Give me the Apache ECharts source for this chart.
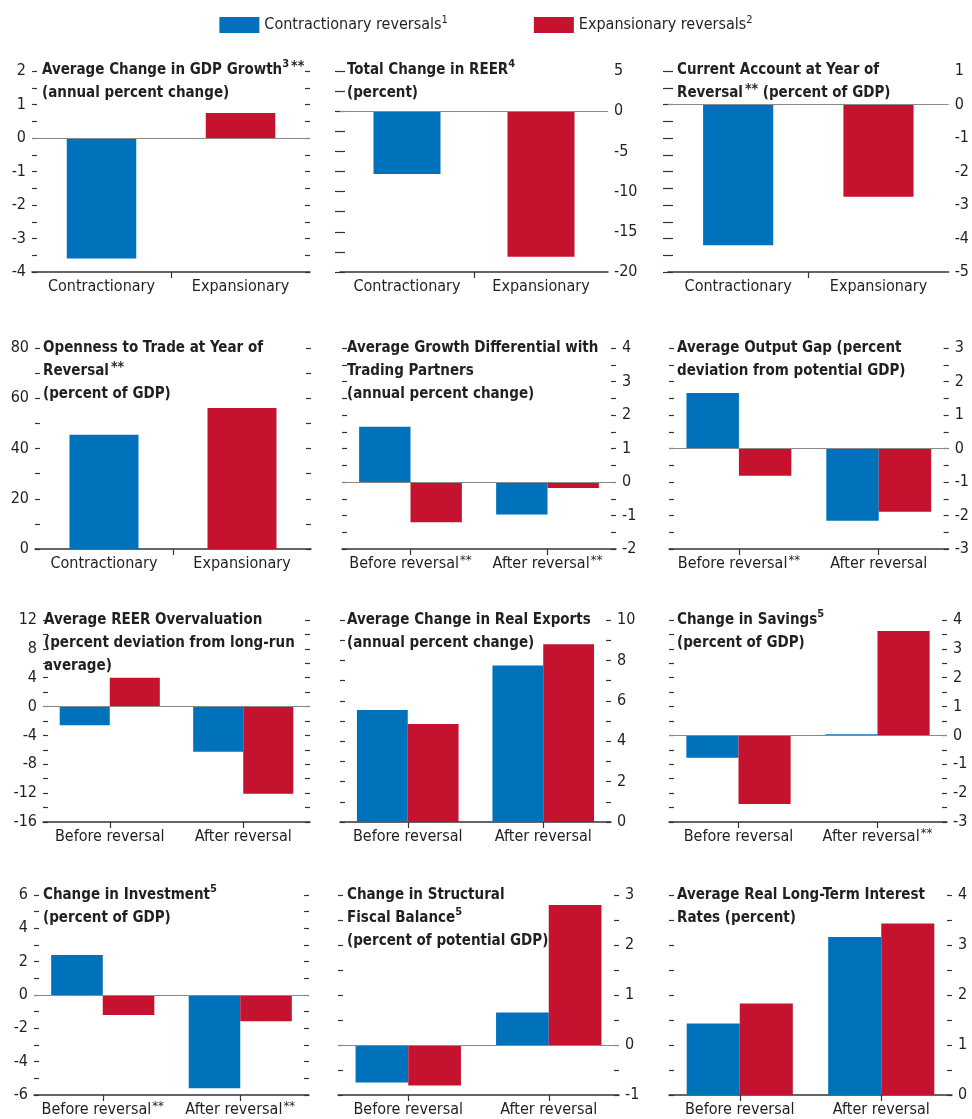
<!DOCTYPE html>
<html><head><meta charset="utf-8">
<script src="https://cdn.jsdelivr.net/npm/echarts@6/dist/echarts.min.js"></script>
<style>html,body{margin:0;padding:0;background:#fff}#c{width:972px;height:1119px}</style>
</head><body><div id="c"></div>
<script>
// ---------- DATA ----------
const seriesNames = ['Contractionary reversals', 'Expansionary reversals'];
const legendSup = ['1', '2'];

const catsType = ['Contractionary', 'Expansionary'];

// Panel 1
const p1Title = '{t|Average Change in GDP Growth}{s|3}{a|**}\n{t|(annual percent change)}';
const p1Vals = [-3.6, 0.75];          // contractionary, expansionary
const p1Axis = [-4, 2, 1];            // min, max, interval
// Panel 2
const p2Title = '{t|Total Change in REER}{s|4}\n{t|(percent)}';
const p2Vals = [-7.8, -18.1];
const p2Axis = [-20, 5, 5];
// Panel 3
const p3Title = '{t|Current Account at Year of}\n{t|Reversal}{a|**}{t| (percent of GDP)}';
const p3Vals = [-4.2, -2.75];
const p3Axis = [-5, 1, 1];
// Panel 4
const p4Title = '{t|Openness to Trade at Year of}\n{t|Reversal}{a|**}\n{t|(percent of GDP)}';
const p4Vals = [45.5, 56.1];
const p4Axis = [0, 80, 20];
// Panel 5
const p5Title = '{t|Average Growth Differential with}\n{t|Trading Partners}\n{t|(annual percent change)}';
const p5Cats = ['Before reversal**', 'After reversal**'];
const p5Contr = [1.65, -0.97];
const p5Exp = [-1.2, -0.18];
const p5Axis = [-2, 4, 1];
// Panel 6
const p6Title = '{t|Average Output Gap (percent}\n{t|deviation from potential GDP)}';
const p6Cats = ['Before reversal**', 'After reversal'];
const p6Contr = [1.66, -2.16];
const p6Exp = [-0.81, -1.89];
const p6Axis = [-3, 3, 1];
// Panel 7
const p7Title = '{t|Average REER Overvaluation}\n{t|(percent deviation from long-run}\n{t|average)}';
const p7Cats = ['Before reversal', 'After reversal'];
const p7Contr = [-2.6, -6.25];
const p7Exp = [4.0, -12.1];
const p7Axis = [-16, 12, 4];
// Panel 8
const p8Title = '{t|Average Change in Real Exports}\n{t|(annual percent change)}';
const p8Cats = ['Before reversal', 'After reversal'];
const p8Contr = [5.55, 7.75];
const p8Exp = [4.85, 8.8];
const p8Axis = [0, 10, 2];
// Panel 9
const p9Title = '{t|Change in Savings}{s|5}\n{t|(percent of GDP)}';
const p9Cats = ['Before reversal', 'After reversal**'];
const p9Contr = [-0.77, 0.04];
const p9Exp = [-2.38, 3.62];
const p9Axis = [-3, 4, 1];
// Panel 10
const p10Title = '{t|Change in Investment}{s|5}\n{t|(percent of GDP)}';
const p10Cats = ['Before reversal**', 'After reversal**'];
const p10Contr = [2.4, -5.6];
const p10Exp = [-1.2, -1.58];
const p10Axis = [-6, 6, 2];
// Panel 11
const p11Title = '{t|Change in Structural}\n{t|Fiscal Balance}{s|5}\n{t|(percent of potential GDP)}';
const p11Cats = ['Before reversal', 'After reversal'];
const p11Contr = [-0.75, 0.65];
const p11Exp = [-0.81, 2.8];
const p11Axis = [-1, 3, 1];
// Panel 12
const p12Title = '{t|Average Real Long-Term Interest}\n{t|Rates (percent)}';
const p12Cats = ['Before reversal', 'After reversal'];
const p12Contr = [1.43, 3.16];
const p12Exp = [1.83, 3.43];
const p12Axis = [0, 4, 1];

// ---------- LAYOUT / STYLE ----------
const FONT = "'Liberation Sans Narrow', 'DejaVu Sans Condensed', 'Arial Narrow', sans-serif";
const TXT = '#231f20';
const BLUE = '#0072bc';
const RED = '#c4122f';

const grids = [
  {left: 32, top: 71, width: 278, height: 201},
  {left: 340, top: 71, width: 268, height: 201},
  {left: 668, top: 71, width: 281, height: 201},
  {left: 35, top: 348, width: 276, height: 201},
  {left: 342, top: 348, width: 274, height: 201},
  {left: 669, top: 348, width: 280, height: 201},
  {left: 43, top: 620, width: 267, height: 202},
  {left: 340, top: 620, width: 271, height: 202},
  {left: 669, top: 620, width: 278, height: 202},
  {left: 34, top: 895, width: 275, height: 200},
  {left: 338, top: 895, width: 281, height: 200},
  {left: 669, top: 895, width: 283, height: 200}
];
const titlePos = [
  [42, 59], [347, 59], [677, 59],
  [43, 337], [347, 337], [677, 337],
  [44, 609], [347, 609], [677, 609],
  [43, 884], [347, 884], [677, 884]
];

const panels = [
  {title: p1Title, cats: catsType, contr: [p1Vals[0], '-'], exp: ['-', p1Vals[1]], axis: p1Axis, side: 'left', single: true},
  {title: p2Title, cats: catsType, contr: [p2Vals[0], '-'], exp: ['-', p2Vals[1]], axis: p2Axis, side: 'right', single: true},
  {title: p3Title, cats: catsType, contr: [p3Vals[0], '-'], exp: ['-', p3Vals[1]], axis: p3Axis, side: 'right', single: true},
  {title: p4Title, cats: catsType, contr: [p4Vals[0], '-'], exp: ['-', p4Vals[1]], axis: p4Axis, side: 'left', single: true},
  {title: p5Title, cats: p5Cats, contr: p5Contr, exp: p5Exp, axis: p5Axis, side: 'right'},
  {title: p6Title, cats: p6Cats, contr: p6Contr, exp: p6Exp, axis: p6Axis, side: 'right'},
  {title: p7Title, cats: p7Cats, contr: p7Contr, exp: p7Exp, axis: p7Axis, side: 'left'},
  {title: p8Title, cats: p8Cats, contr: p8Contr, exp: p8Exp, axis: p8Axis, side: 'right'},
  {title: p9Title, cats: p9Cats, contr: p9Contr, exp: p9Exp, axis: p9Axis, side: 'right'},
  {title: p10Title, cats: p10Cats, contr: p10Contr, exp: p10Exp, axis: p10Axis, side: 'left'},
  {title: p11Title, cats: p11Cats, contr: p11Contr, exp: p11Exp, axis: p11Axis, side: 'right'},
  {title: p12Title, cats: p12Cats, contr: p12Contr, exp: p12Exp, axis: p12Axis, side: 'right'}
];

const titleRich = {
  t: {fontSize: 15, fontWeight: 'bold', lineHeight: 23, color: TXT, fontFamily: FONT},
  s: {fontSize: 11, fontWeight: 'bold', lineHeight: 12, verticalAlign: 'top', color: TXT, fontFamily: FONT},
  a: {fontSize: 14, fontWeight: 'bold', lineHeight: 14, verticalAlign: 'top', color: TXT, fontFamily: FONT, padding: [0, 0, 0, 2]}
};
const labelRich = {
  l: {fontSize: 16, lineHeight: 20, color: TXT, fontFamily: FONT},
  a: {fontSize: 13, lineHeight: 13, verticalAlign: 'top', color: TXT, fontFamily: FONT, padding: [0, 0, 0, 1]}
};

const tickStyle = {color: '#333', width: 1.2};

const option = {
  animation: false,
  backgroundColor: '#fff',
  textStyle: {fontFamily: FONT},
  legend: {
    top: 10, left: 'center', itemWidth: 40, itemHeight: 16, itemGap: 86,
    icon: 'rect',
    data: seriesNames,
    formatter: function (name) { return '{n|' + name + '}{s|' + legendSup[seriesNames.indexOf(name)] + '}'; },
    textStyle: {
      color: TXT, fontFamily: FONT, fontSize: 16,
      rich: {
        n: {fontSize: 16, lineHeight: 20, color: TXT, fontFamily: FONT},
        s: {fontSize: 11, lineHeight: 11, verticalAlign: 'top', color: TXT, fontFamily: FONT}
      }
    }
  },
  title: [], grid: [], xAxis: [], yAxis: [], series: []
};

panels.forEach(function (p, i) {
  option.title.push({
    text: p.title, left: titlePos[i][0], top: titlePos[i][1], padding: 0,
    textStyle: {rich: titleRich, fontFamily: FONT}
  });
  option.grid.push(Object.assign({containLabel: false}, grids[i]));
  const xIdx = option.xAxis.length;
  option.xAxis.push({
    type: 'category', gridIndex: i, data: p.cats, position: 'bottom',
    axisLine: {onZero: false, lineStyle: {color: '#333', width: 1.5}},
    axisTick: p.single ? {show: false} : {show: true, alignWithLabel: true, length: 6, lineStyle: tickStyle},
    axisLabel: {
      margin: 5, interval: 0,
      formatter: function (v) {
        return v.indexOf('**') >= 0 ? '{l|' + v.replace('**', '') + '}{a|**}' : '{l|' + v + '}';
      },
      rich: labelRich
    },
    splitLine: {show: false}
  });
  if (p.single) {
    option.xAxis.push({
      type: 'value', gridIndex: i, min: 0, max: 2, interval: 1, position: 'bottom',
      axisLine: {show: false, onZero: false}, axisLabel: {show: false}, splitLine: {show: false},
      axisTick: {show: true, customValues: [1], length: 6, lineStyle: tickStyle}
    });
  }
  const yIdx = option.yAxis.length;
  const other = p.side === 'left' ? 'right' : 'left';
  [p.side, other].forEach(function (pos, k) {
    option.yAxis.push({
      type: 'value', gridIndex: i, position: pos,
      min: p.axis[0], max: p.axis[1], interval: p.axis[2],
      axisLine: {show: false},
      axisTick: {show: true, inside: true, length: 5, lineStyle: tickStyle},
      minorTick: {show: true, splitNumber: 2, length: 5, lineStyle: tickStyle},
      splitLine: {show: false}, minorSplitLine: {show: false},
      axisLabel: {show: k === 0, margin: 6, fontSize: 16, color: TXT, fontFamily: FONT}
    });
  });
  const common = {
    type: 'bar', xAxisIndex: xIdx, yAxisIndex: yIdx,
    barWidth: p.single ? '50%' : '37.5%'
  };
  const contrSeries = Object.assign({}, common, {
    name: seriesNames[0], data: p.contr, itemStyle: {color: BLUE}, z: 2
  });
  if (p.axis[0] < 0) {
    contrSeries.markLine = {
      silent: true, symbol: ['none', 'none'], label: {show: false},
      lineStyle: {color: '#8a8a8a', width: 1.2, type: 'solid'},
      data: [{yAxis: 0}], animation: false, z: 5
    };
  }
  option.series.push(contrSeries);
  option.series.push(Object.assign({}, common, {
    name: seriesNames[1], data: p.exp, itemStyle: {color: RED},
    barGap: p.single ? '-100%' : '0%', z: 2
  }));
});

const chart = echarts.init(document.getElementById('c'), null, {renderer: 'canvas'});
chart.setOption(option);
</script>
</body></html>
